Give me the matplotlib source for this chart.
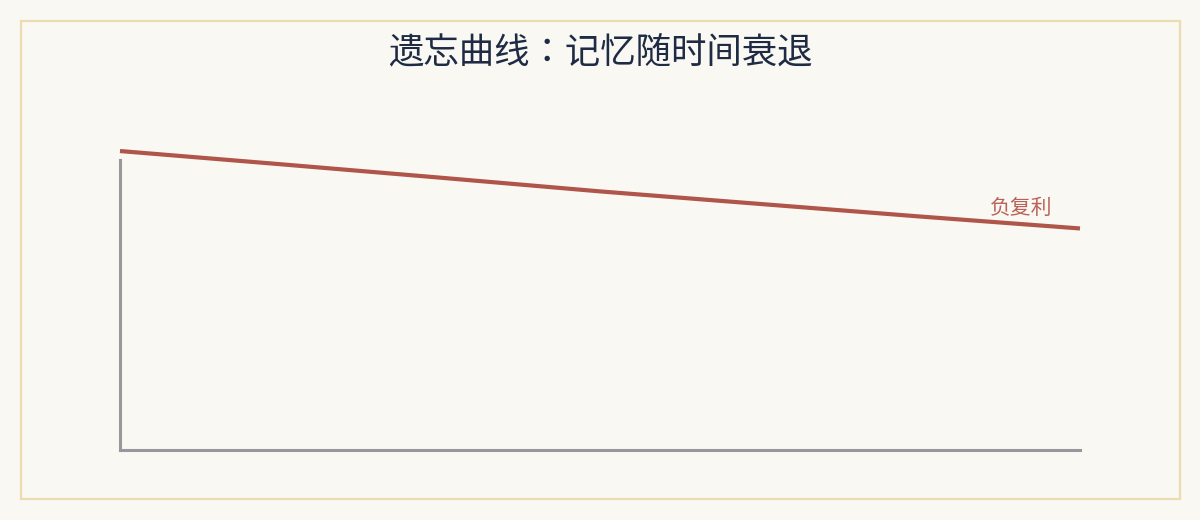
import matplotlib.pyplot as plt
from matplotlib.patches import Rectangle

plt.rcParams['font.family'] = ['Noto Sans CJK SC', 'DejaVu Sans']

# 时间（天）与记忆保留率
days = [0, 5, 10, 15, 20, 25, 30]
retention = [1.000, 0.956, 0.911, 0.865, 0.823, 0.781, 0.741]
title_text = "遗忘曲线：记忆随时间衰退"
line_label = "负复利"

bg = "#f9f8f3"
line_color = "#b0554a"
axis_color = "#98979c"

fig = plt.figure(figsize=(12, 5.2), dpi=100, facecolor=bg)

# 外框
fig.patches.append(Rectangle((21 / 1200, 21 / 520), 1159 / 1200, 478 / 520,
                             transform=fig.transFigure, fill=False,
                             edgecolor="#ecdcb2", linewidth=1.6))

ax = fig.add_axes([0.1, 70 / 520, 0.8, 290 / 520])
ax.set_facecolor(bg)
ax.plot(days, retention, color=line_color, lw=3, clip_on=False,
        solid_capstyle="butt")
ax.annotate(line_label, xy=(days[-1], retention[-1]), xytext=(-20, 15),
            textcoords="offset points", ha="right", va="center",
            color="#bb6258", fontsize=15)

ax.set_xlim(days[0], days[-1])
ax.set_ylim(0, 0.97)
for s in ["top", "right"]:
    ax.spines[s].set_visible(False)
for s in ["left", "bottom"]:
    ax.spines[s].set_color(axis_color)
    ax.spines[s].set_linewidth(2.2)
ax.set_xticks([])
ax.set_yticks([])

# 标题冒号居中（JP 字形）
fig.text(0.5, 1 - 52 / 520, title_text, ha="center", va="center",
         fontsize=25.5, color="#1f2a44",
         family=['Noto Sans CJK JP', 'DejaVu Sans'])

fig.savefig("out.png", dpi=100, facecolor=bg)
